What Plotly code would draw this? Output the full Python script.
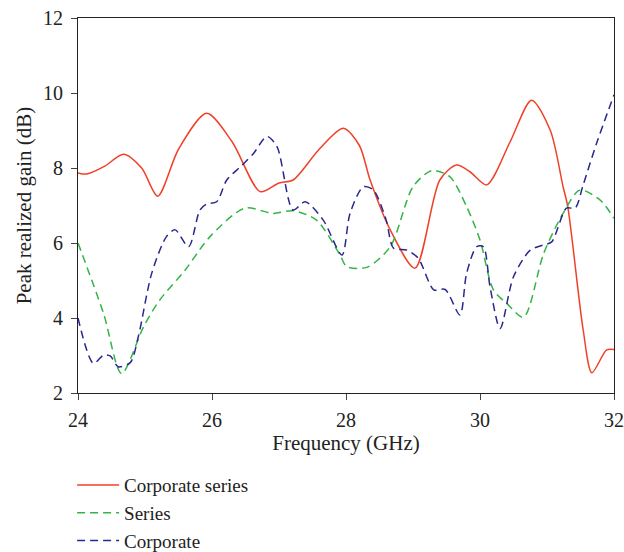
import plotly.graph_objects as go

# Corporate series (red, solid)
cs_f = [24.0, 24.13, 24.4, 24.68, 24.95, 25.19, 25.5, 25.92, 26.3, 26.72, 27.0, 27.21, 27.6, 27.96, 28.2, 28.36, 28.66, 29.03, 29.4, 29.65, 29.85, 30.1, 30.45, 30.77, 31.05, 31.24, 31.31, 31.54, 31.67, 31.89, 32.0]
cs_g = [7.87, 7.84, 8.05, 8.37, 8.0, 7.25, 8.5, 9.46, 8.7, 7.37, 7.6, 7.68, 8.5, 9.06, 8.6, 7.68, 6.35, 5.33, 7.68, 8.08, 7.9, 7.55, 8.7, 9.81, 9.0, 7.5, 6.97, 3.68, 2.54, 3.15, 3.16]

# Series (green, dashed)
s_f = [24.0, 24.38, 24.65, 24.98, 25.22, 25.6, 25.97, 26.49, 26.91, 27.21, 27.56, 27.91, 28.01, 28.31, 28.66, 29.0, 29.28, 29.55, 29.8, 30.0, 30.2, 30.4, 30.65, 30.95, 31.24, 31.49, 31.79, 32.0]
s_g = [6.0, 4.13, 2.52, 3.77, 4.48, 5.28, 6.17, 6.93, 6.79, 6.86, 6.61, 5.68, 5.37, 5.35, 5.9, 7.5, 7.93, 7.77, 6.97, 6.08, 4.75, 4.39, 4.02, 5.72, 6.79, 7.41, 7.15, 6.66]

# Corporate (blue, dashed)
c_f = [24.0, 24.23, 24.38, 24.48, 24.6, 24.78, 24.9, 25.1, 25.32, 25.45, 25.65, 25.82, 25.92, 26.07, 26.22, 26.44, 26.62, 26.82, 26.97, 27.21, 27.39, 27.66, 27.94, 28.06, 28.26, 28.41, 28.6, 28.71, 28.91, 29.08, 29.31, 29.48, 29.7, 29.8, 29.95, 30.05, 30.15, 30.3, 30.5, 30.75, 30.95, 31.07, 31.29, 31.42, 31.54, 31.74, 32.0]
c_g = [4.0, 2.79, 3.01, 2.99, 2.7, 2.81, 3.5, 5.19, 6.17, 6.35, 5.9, 6.88, 7.04, 7.1, 7.68, 8.06, 8.39, 8.84, 8.57, 6.88, 7.1, 6.61, 5.68, 6.79, 7.5, 7.41, 6.61, 5.86, 5.81, 5.59, 4.75, 4.76, 4.08, 5.19, 5.9, 5.9, 4.83, 3.72, 5.1, 5.81, 5.95, 6.03, 6.93, 6.93, 7.55, 8.66, 9.95]

x_ticks = [24, 26, 28, 30, 32]
y_ticks = [2, 4, 6, 8, 10, 12]

FONT = "Liberation Serif"

fig = go.Figure()
fig.add_trace(go.Scatter(x=cs_f, y=cs_g, mode="lines", name="Corporate series",
                         line=dict(color="rgb(240,65,40)", width=1.5, shape="spline", smoothing=0.8),
                         legendgroup="a"))
fig.add_trace(go.Scatter(x=s_f, y=s_g, mode="lines", name="Series",
                         line=dict(color="rgb(50,180,70)", width=1.5, dash="8px,5px", shape="spline", smoothing=0.8),
                         legendgroup="b"))
fig.add_trace(go.Scatter(x=c_f, y=c_g, mode="lines", name="Corporate",
                         line=dict(color="rgb(40,40,140)", width=1.5, dash="8px,5px", shape="spline", smoothing=0.8),
                         legendgroup="c"))

fig.update_layout(
    width=624, height=552,
    margin=dict(l=78, r=10, t=18, b=159, autoexpand=False),
    paper_bgcolor="white", plot_bgcolor="white",
    font=dict(family=FONT, size=20, color="#222"),
    showlegend=True,
    legend=dict(x=-0.011, y=-0.195, xanchor="left", yanchor="top",
                font=dict(family=FONT, size=19, color="#222"),
                itemwidth=42,
                tracegroupgap=0, bgcolor="rgba(0,0,0,0)"),
    xaxis=dict(range=[24, 32], tickvals=x_ticks, ticks="outside", ticklen=6,
               ticklabelstandoff=3, tickfont=dict(size=20), ticklabeloverflow="allow",
               showline=True, linecolor="#222", linewidth=1.2, mirror=True,
               showgrid=False, zeroline=False, automargin=False,
               title=dict(text="Frequency (GHz)", font=dict(size=21), standoff=5)),
    yaxis=dict(range=[2, 12], tickvals=y_ticks, ticks="outside", ticklen=6,
               ticklabelstandoff=4, tickfont=dict(size=20), ticklabeloverflow="allow",
               showline=True, linecolor="#222", linewidth=1.2, mirror=True,
               showgrid=False, zeroline=False, automargin=False,
               title=dict(text="Peak realized gain (dB)", font=dict(size=21), standoff=5)),
)

fig.write_html("out.html", config={"displayModeBar": False},
               post_script="document.body.style.margin='0';document.body.style.overflow='hidden';")
